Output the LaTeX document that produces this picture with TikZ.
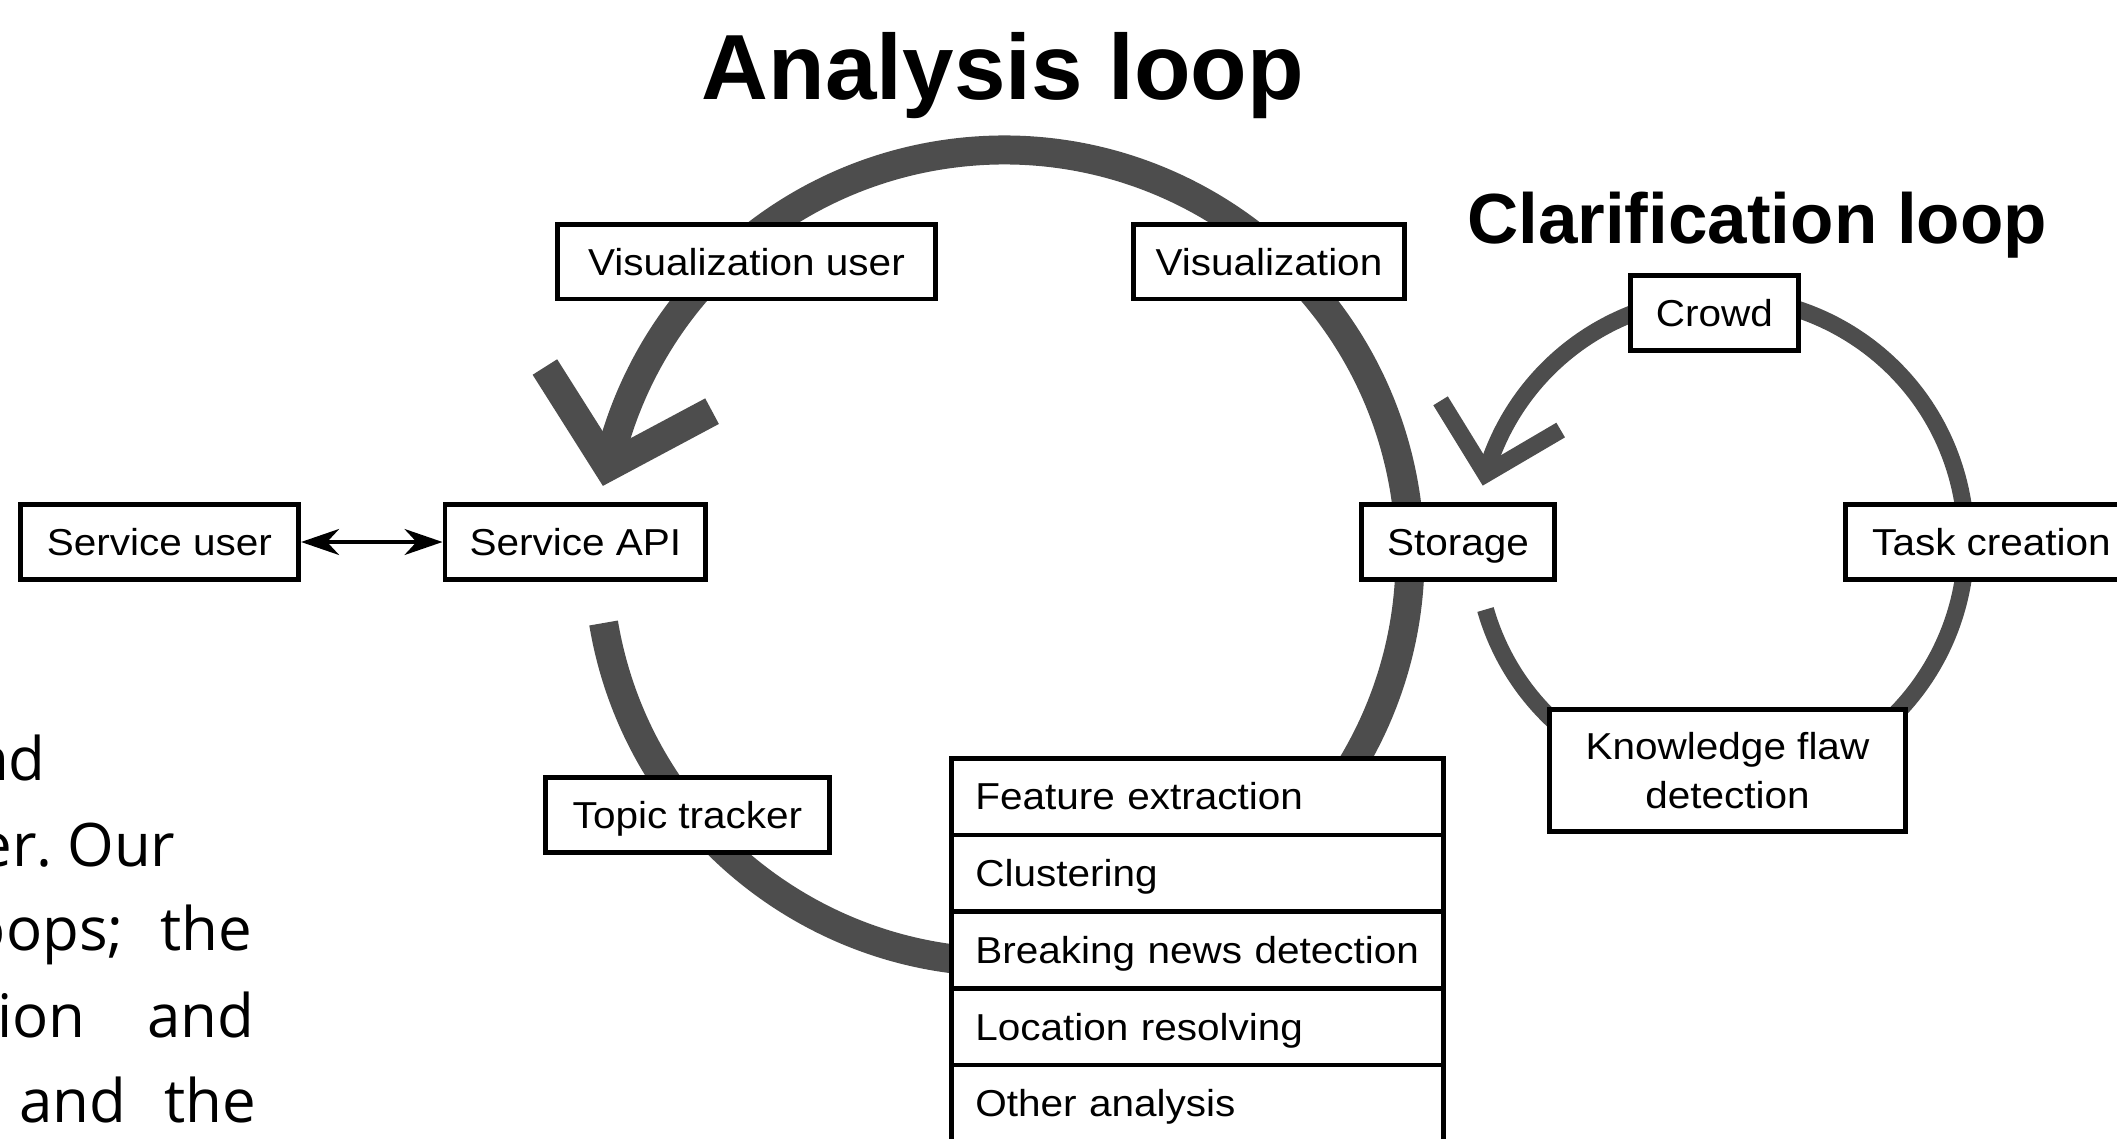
\documentclass[tikz,border=0pt]{standalone}
\usepackage{fontspec}
\newfontfamily\diafont[FakeStretch=1.08]{Liberation Sans}
\newfontfamily\headfont{Liberation Sans}
\newfontfamily\bodyfont{Open Sans}
\usetikzlibrary{arrows.meta,calc}
\definecolor{loopgray}{RGB}{77,77,77}

\begin{document}
\begin{tikzpicture}[x=0.5pt,y=0.5pt,
  box/.style={draw=black, line width=2.3pt, fill=white, inner sep=0pt, outer sep=0pt,
    font=\diafont\fontsize{18.75}{23}\selectfont, minimum height=37.4pt},
  oneline/.style={text height=13.4pt, text depth=0pt},
  stackrow/.style={box, oneline, text width=222.2pt, inner xsep=12pt, align=left,
    minimum height=38.35pt},
  bigloop/.style={draw=loopgray, line width=14.5pt},
  smallloop/.style={draw=loopgray, line width=8.5pt},
  twoway/.style={line width=1.65pt, {Stealth[length=19pt,width=13pt,inset=6pt]}-{Stealth[length=19pt,width=13pt,inset=6pt]},
    shorten <=1.2pt, shorten >=1.2pt},
  heading/.style={font=\headfont\bfseries, inner sep=0pt},
  bodytext/.style={font=\bodyfont\fontsize{30}{36}\selectfont, inner sep=0pt}
]
\useasboundingbox (0,0) rectangle (2117,-1139);
\clip (0,0) rectangle (2117,-1139);

% loop centres
\coordinate (ca) at (1004,-556);
\coordinate (cb) at (1721,-542);

% analysis loop with its open arrowhead
\draw[bigloop] ($(ca)+(189.5:406)$) arc[start angle=189.5, end angle=527.3, radius=406];
\draw[bigloop, line join=miter] ($(ca)+(167.3:406)+(122.3:118)$) -- ($(ca)+(167.3:406)$) -- ++(28.1:118);

% clarification loop with its open arrowhead
\draw[smallloop] ($(cb)+(196:245)$) arc[start angle=196, end angle=523.9, radius=245];
\draw[smallloop, line join=miter] ($(cb)+(163.9:245)+(121.6:86)$) -- ($(cb)+(163.9:245)$) -- ++(30.4:87);

% headings
\node[heading, font=\headfont\bfseries\fontsize{46.3}{50}\selectfont, anchor=base] (ahead) at (1003,-100) {Analysis loop};
\node[heading, font=\headfont\bfseries\fontsize{35.5}{40}\selectfont, anchor=base] (chead) at (1757,-244) {Clarification loop};

% analysis loop stations
\node[box, oneline, minimum width=189.25pt] (vuser) at (746.5,-261.7) {Visualization user};
\node[box, oneline, minimum width=135.75pt] (vis) at (1269,-261.7) {Visualization};
\node[box, oneline, minimum width=139.2pt] (suser) at (159.5,-542) {Service user};
\node[box, oneline, minimum width=130.4pt] (sapi) at (575.3,-542) {Service API};
\node[box, oneline, minimum width=96.7pt] (storage) at (1458,-542) {Storage};
\node[box, oneline, minimum width=142.2pt] (topic) at (687.5,-815) {Topic tracker};

% clarification loop stations
\node[box, oneline, minimum width=84.2pt] (crowd) at (1714.5,-313) {Crowd};
\node[box, oneline, minimum width=146.2pt] (task) at (1991.5,-542) {Task creation};
\node[box, align=center, font=\diafont\fontsize{18.75}{24.5}\selectfont,
      minimum width=178.2pt, minimum height=61.2pt] (kfd) at (1727.5,-770.5) {Knowledge flaw\\detection};

% analysis component stack
\node[stackrow] (fe) at (1197.5,-796.55) {Feature extraction};
\node[stackrow] (cl) at (1197.5,-873.25) {Clustering};
\node[stackrow] (bn) at (1197.5,-949.95) {Breaking news detection};
\node[stackrow] (lr) at (1197.5,-1026.65) {Location resolving};
\node[stackrow] (oa) at (1197.5,-1103.35) {Other analysis};

% service access
\draw[twoway] (suser) -- (sapi);

% running text at the left margin
\node[bodytext, anchor=base east] (t1) at (46,-780) {nd};
\node[bodytext, anchor=base east] (t2a) at (53,-866) {er.};
\node[bodytext, anchor=base west] (t2b) at (67,-866) {Our};
\node[bodytext, anchor=base east] (t3a) at (124,-950) {oops;};
\node[bodytext, anchor=base west] (t3b) at (160,-950) {the};
\node[bodytext, anchor=base east] (t4a) at (86,-1037) {ion};
\node[bodytext, anchor=base west] (t4b) at (147,-1037) {and};
\node[bodytext, anchor=base west] (t5a) at (19,-1122) {and};
\node[bodytext, anchor=base west] (t5b) at (164,-1122) {the};
\end{tikzpicture}
\end{document}
